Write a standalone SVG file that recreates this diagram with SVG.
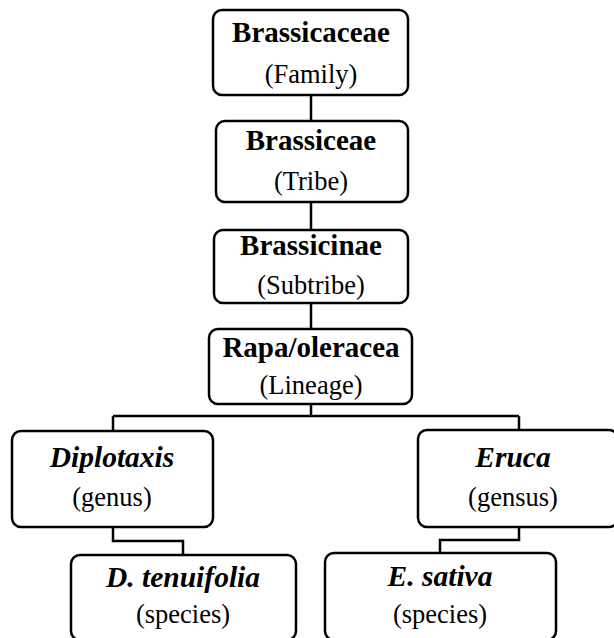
<svg xmlns="http://www.w3.org/2000/svg" width="614" height="638" viewBox="0 0 614 638">
<style>
.box{fill:#fff;stroke:#000;stroke-width:2.5}
.con{fill:none;stroke:#000;stroke-width:2.5}
text{font-family:"Liberation Serif","Times New Roman",serif;text-anchor:middle;fill:#000}
.t{font-weight:bold;font-size:29px}
.ti{font-weight:bold;font-style:italic;font-size:29.5px}
.s{font-size:26.5px}
</style>
<rect width="614" height="638" fill="#fff"/>
<g id="connectors">
<path class="con" d="M311 95V121M311 202V230M311 303V329M311 404V416M113 416H519M113 416V431M519 416V430"/>
<path class="con" d="M113 527V541H183V555M519 527V540H440V553"/>
</g>
<g id="n1"><rect class="box" x="213" y="10" width="195" height="85" rx="9"/><text class="t" x="311" y="42">Brassicaceae</text><text class="s" x="311" y="83">(Family)</text></g>
<g id="n2"><rect class="box" x="216" y="121" width="192" height="81" rx="9"/><text class="t" x="311" y="150">Brassiceae</text><text class="s" x="311" y="190">(Tribe)</text></g>
<g id="n3"><rect class="box" x="214" y="230" width="194" height="73" rx="9"/><text class="t" x="311" y="255">Brassicinae</text><text class="s" x="311" y="294">(Subtribe)</text></g>
<g id="n4"><rect class="box" x="209" y="329" width="203" height="75" rx="9"/><text class="t" x="311" y="357">Rapa/oleracea</text><text class="s" x="311" y="394">(Lineage)</text></g>
<g id="n5"><rect class="box" x="12" y="431" width="201" height="96" rx="9"/><text class="ti" x="112" y="467">Diplotaxis</text><text class="s" x="112" y="506">(genus)</text></g>
<g id="n6"><rect class="box" x="418" y="430" width="200" height="97" rx="9"/><text class="ti" x="513" y="467">Eruca</text><text class="s" x="513" y="506">(gensus)</text></g>
<g id="n7"><rect class="box" x="71" y="555" width="225" height="85" rx="9"/><text class="ti" x="183" y="587">D. tenuifolia</text><text class="s" x="183" y="623">(species)</text></g>
<g id="n8"><rect class="box" x="325" y="553" width="231" height="87" rx="9"/><text class="ti" x="440" y="586">E. sativa</text><text class="s" x="440" y="623">(species)</text></g>
</svg>
